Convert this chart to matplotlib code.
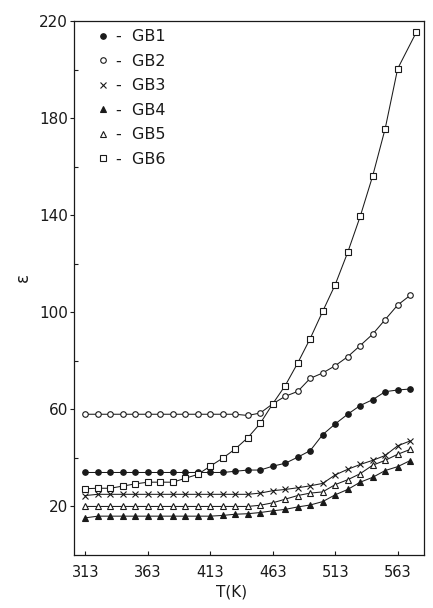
import matplotlib
matplotlib.use('Agg')
import matplotlib.pyplot as plt
from matplotlib.lines import Line2D
from matplotlib.ticker import FixedLocator

matplotlib.rcParams['font.family'] = 'DejaVu Sans'

# Temperature (K) and permittivity
temps = [313, 323, 333, 343, 353, 363, 373, 383, 393, 403, 413, 423, 433, 443,
         453, 463, 473, 483, 493, 503, 513, 523, 533, 543, 553, 563, 573]
temps_gb6 = [313, 323, 333, 343, 353, 363, 373, 383, 393, 403, 413, 423, 433, 443,
             453, 463, 473, 483, 493, 503, 513, 523, 533, 543, 553, 563, 578]

gb1 = [34, 34, 34, 34, 34, 34, 34, 34, 34, 34, 34, 34, 34.5, 35,
       35, 36.6, 37.8, 40.3, 43, 49.6, 54, 58, 61.6, 64, 67.3, 68, 68.4]
gb2 = [58, 58, 58, 58, 58, 58, 58, 58, 58, 58, 58, 58, 58, 57.5,
       58.5, 62.3, 65.4, 67.4, 72.8, 75, 78, 81.7, 86.3, 91, 97, 103, 107]
gb3 = [24.5, 25, 25, 25, 25, 25, 25, 25, 25, 25, 25, 25, 25, 25,
       25.5, 26.5, 27, 27.7, 28.5, 29.5, 33, 35.3, 37.3, 39, 41, 45, 47]
gb4 = [15.3, 16, 16, 16, 16, 16, 16, 16, 16, 16, 16, 16.3, 16.8, 17,
       17.5, 18.2, 18.8, 19.8, 20.6, 22, 24.8, 27, 30, 32, 34.8, 36.4, 38.9]
gb5 = [20, 20, 20, 20, 20, 20, 20, 20, 20, 20, 20, 20, 20, 20,
       20.5, 21.5, 23, 24.5, 25.5, 26, 29, 31, 33.5, 37, 39, 41.5, 43.5]
gb6 = [27.3, 27.5, 27.5, 28.4, 29.3, 30, 30, 30, 31.6, 33.2, 36.6, 39.9, 43.7, 48.3,
       54.2, 62.3, 69.8, 79.1, 89.2, 100.4, 111.4, 124.7, 139.5, 156.2, 175.7, 200.4, 215.5]

labels = ['GB1', 'GB2', 'GB3', 'GB4', 'GB5', 'GB6']
xticks = [313, 363, 413, 463, 513, 563]
yticks = [20, 60, 100, 140, 180, 220]
yminor = [40, 80, 120, 160, 200]

ink = '#1a1a1a'
styles = [
    dict(marker='o', ms=4.0, mfc=ink),
    dict(marker='o', ms=4.0, mfc='white'),
    dict(marker='x', ms=4.5, mfc=ink),
    dict(marker='^', ms=4.5, mfc=ink),
    dict(marker='^', ms=4.5, mfc='white'),
    dict(marker='s', ms=4.5, mfc='white'),
]
series = [(temps, gb1), (temps, gb2), (temps, gb3), (temps, gb4), (temps, gb5), (temps_gb6, gb6)]

fig = plt.figure(figsize=(4.33, 6.08), dpi=100)
ax = fig.add_axes([0.171, 0.0872, 0.808, 0.878])

for (x, y), st in zip(series, styles):
    ax.plot(x, y, color=ink, lw=0.75, mec=ink, mew=0.8, **st)

ax.set_xlim(304, 584)
ax.set_ylim(0, 220)

ax.xaxis.set_major_locator(FixedLocator(xticks))
ax.yaxis.set_major_locator(FixedLocator(yticks))
ax.yaxis.set_minor_locator(FixedLocator(yminor))
ax.tick_params(axis='x', direction='in', length=3, width=0.8, pad=7,
               labelsize=10.5, colors=ink)
ax.tick_params(axis='y', which='major', direction='out', length=3, width=0.8,
               pad=1.5, labelsize=11, colors=ink)
ax.tick_params(axis='y', which='minor', direction='in', length=3, width=0.8,
               colors=ink)
for s in ax.spines.values():
    s.set_linewidth(0.9)
    s.set_color(ink)

ax.set_xlabel('T(K)', fontsize=11, color=ink)
ax.xaxis.set_label_coords(0.45, -0.055)
ax.set_ylabel('\u03b5', fontsize=12, color=ink)
ax.yaxis.set_label_coords(-0.12, 0.52)

# legend: markers only, as in the original
handles = [Line2D([], [], color=ink, linestyle='None', mec=ink, mew=0.8, **st)
           for st in styles]
ax.legend(handles, ['-  ' + l for l in labels], loc='upper left',
          bbox_to_anchor=(0.02, 1.012), frameon=False, fontsize=11.5,
          handlelength=1.0, handletextpad=0.3, labelspacing=0.6,
          labelcolor=ink)

fig.savefig('out.png', dpi=100, facecolor='white')
